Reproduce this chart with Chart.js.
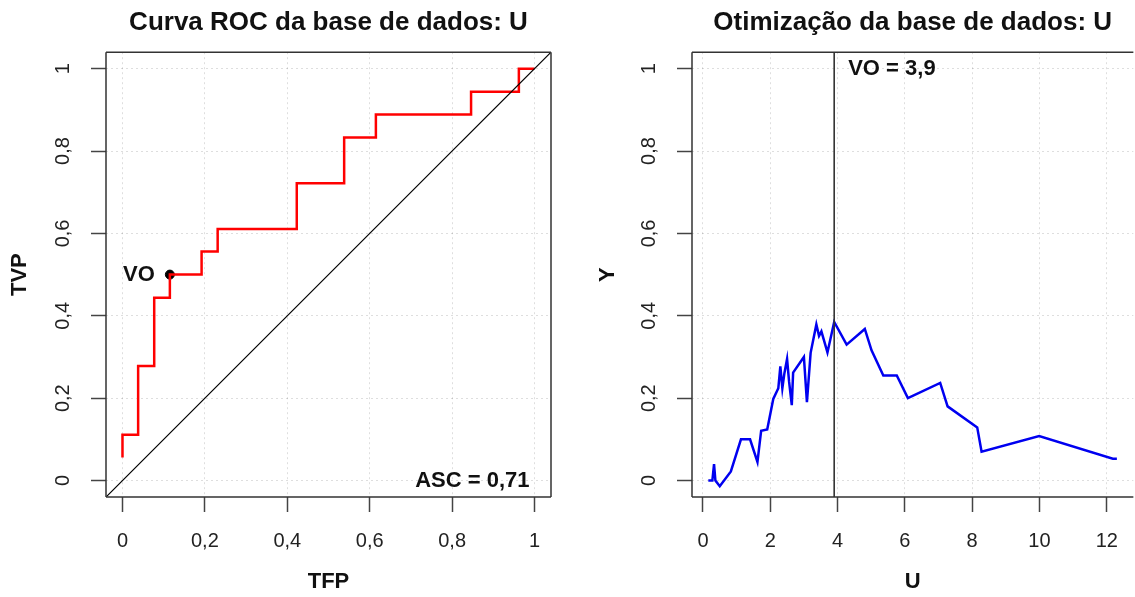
<!DOCTYPE html>
<html>
<head>
<meta charset="utf-8">
<script src="https://cdn.jsdelivr.net/npm/chart.js@4"></script>
<style>
  html, body { margin: 0; padding: 0; background: #fff; overflow: hidden; }
  #wrap { position: relative; width: 1135px; height: 597px; overflow: hidden; }
  canvas { position: absolute; top: 0; }
  #rocChart { left: 0; }
  #optChart { left: 567px; }
</style>
</head>
<body>
<div id="wrap">
  <canvas id="rocChart" width="567" height="597"></canvas>
  <canvas id="optChart" width="568" height="597"></canvas>
</div>
<script>
// ROC curve, corners of the steps (TFP, TVP)
const rocFpr = [0, 0, 0.038, 0.077, 0.115, 0.192, 0.231, 0.423, 0.538, 0.615, 0.846, 0.962, 1];
const rocTpr = [0.056, 0.111, 0.278, 0.444, 0.5, 0.556, 0.611, 0.722, 0.833, 0.889, 0.944, 1, 1];
const optFpr = [0.115];
const optTpr = [0.5];
const aucText = 'ASC = 0,71';

// optimisation curve (U, Y)
const uValues = [0.16, 0.28, 0.33, 0.37, 0.50, 0.83, 1.13, 1.40, 1.62, 1.73, 1.91, 2.09, 2.24, 2.30, 2.36, 2.42,
  2.50, 2.56, 2.64, 2.68, 3.00, 3.09, 3.20, 3.37, 3.45, 3.52, 3.70, 3.90, 4.27, 4.81, 5.01, 5.36, 5.76, 6.09,
  7.05, 7.27, 8.15, 8.28, 9.99, 12.18, 12.30];
const yValues = [0.0, 0.0, 0.04, 0.0, -0.014, 0.022, 0.10, 0.10, 0.045, 0.121, 0.124, 0.198, 0.224, 0.277, 0.224, 0.26,
  0.295, 0.24, 0.183, 0.262, 0.30, 0.19, 0.31, 0.379, 0.351, 0.362, 0.311, 0.385, 0.33, 0.368, 0.316, 0.255, 0.255, 0.20,
  0.237, 0.18, 0.129, 0.07, 0.108, 0.053, 0.053];
const optU = [3.9];
const optText = 'VO = 3,9';

const rocTicks = [0, 0.2, 0.4, 0.6, 0.8, 1];
const probTicks = [0, 0.2, 0.4, 0.6, 0.8, 1];
const uTicks = [0, 2, 4, 6, 8, 10, 12];
const rocLimits = [-0.04, 1.04];
const uLimits = [-0.325, 12.79];

const FONT = "'Liberation Sans', Arial, Helvetica, sans-serif";

function pairs(xs, ys) {
  return xs.map((x, i) => ({ x: x, y: ys[i] }));
}

function axis(limits, ticks, title, isY, titlePad) {
  return {
    type: 'linear',
    min: limits[0],
    max: limits[1],
    afterBuildTicks: s => { s.ticks = ticks.map(v => ({ value: v })); },
    afterFit: s => { if (isY) s.width = isY; else s.height = 100; },
    grid: {
      color: 'rgba(0,0,0,0.13)',
      lineWidth: 1,
      tickLength: 15,
      tickColor: '#444',
      tickWidth: 1.5
    },
    border: { display: false, dash: [2, 3] },
    ticks: {
      color: '#222',
      font: { family: FONT, size: 20 },
      padding: isY ? 14 : 17,
      minRotation: isY ? 90 : 0,
      maxRotation: isY ? 90 : 0,
      crossAlign: isY ? 'center' : 'near',
      callback: v => String(v).replace('.', ',')
    },
    title: {
      display: true,
      text: title,
      color: '#111',
      font: { family: FONT, size: 22, weight: 'bold' },
      padding: isY ? { top: titlePad, bottom: 0 } : { top: 0, bottom: 2 }
    }
  };
}

function boxPlugin(sides) {
  return {
    id: 'box',
    afterDraw(chart) {
      const { ctx, chartArea: a } = chart;
      ctx.save();
      ctx.strokeStyle = '#333';
      ctx.lineWidth = 1.5;
      ctx.beginPath();
      if (sides.includes('l')) { ctx.moveTo(a.left, a.top); ctx.lineTo(a.left, a.bottom); }
      if (sides.includes('b')) { ctx.moveTo(a.left, a.bottom); ctx.lineTo(a.right, a.bottom); }
      if (sides.includes('t')) { ctx.moveTo(a.left, a.top); ctx.lineTo(a.right, a.top); }
      if (sides.includes('r')) { ctx.moveTo(a.right, a.top); ctx.lineTo(a.right, a.bottom); }
      ctx.stroke();
      ctx.restore();
    }
  };
}

function labelPlugin(items) {
  return {
    id: 'labels',
    afterDatasetsDraw(chart) {
      const { ctx, scales } = chart;
      ctx.save();
      ctx.fillStyle = '#111';
      ctx.font = 'bold 22px ' + FONT;
      ctx.textBaseline = 'middle';
      items.forEach(it => {
        ctx.textAlign = it.align;
        ctx.fillText(it.text, scales.x.getPixelForValue(it.x) + it.dx, scales.y.getPixelForValue(it.y));
      });
      ctx.restore();
    }
  };
}

function titleOpts(text) {
  return {
    display: true,
    text: text,
    fullSize: false,
    color: '#111',
    font: { family: FONT, size: 26, weight: 'bold' },
    padding: { top: 7, bottom: 14 }
  };
}

new Chart(document.getElementById('rocChart'), {
  type: 'scatter',
  data: {
    datasets: [
      {
        data: pairs(rocLimits, rocLimits),
        showLine: true,
        borderColor: '#000',
        borderWidth: 1.2,
        pointRadius: 0
      },
      {
        data: pairs(rocFpr, rocTpr),
        showLine: true,
        stepped: 'before',
        borderColor: '#ff0000',
        borderWidth: 2.5,
        pointRadius: 0
      },
      {
        data: pairs(optFpr, optTpr),
        backgroundColor: '#000',
        borderColor: '#000',
        pointRadius: 4.5
      }
    ]
  },
  options: {
    responsive: false,
    animation: false,
    devicePixelRatio: 1,
    layout: { padding: { left: 0, right: 16, top: 0, bottom: 0 } },
    plugins: {
      legend: { display: false },
      tooltip: { enabled: false },
      title: titleOpts('Curva ROC da base de dados: U')
    },
    scales: {
      x: axis(rocLimits, rocTicks, 'TFP', 0, 0),
      y: axis(rocLimits, probTicks, 'TVP', 106, 7)
    }
  },
  plugins: [
    boxPlugin('lbtr'),
    labelPlugin([
      { text: 'VO', x: optFpr[0], y: optTpr[0], dx: -15, align: 'right' },
      { text: aucText, x: 1, y: 0, dx: -5, align: 'right' }
    ])
  ]
});

new Chart(document.getElementById('optChart'), {
  type: 'scatter',
  data: {
    datasets: [
      {
        data: pairs([optU[0], optU[0]], rocLimits),
        showLine: true,
        borderColor: '#333',
        borderWidth: 1.6,
        pointRadius: 0
      },
      {
        data: pairs(uValues, yValues),
        showLine: true,
        borderColor: '#0000f0',
        borderWidth: 2.5,
        pointRadius: 0
      }
    ]
  },
  options: {
    responsive: false,
    animation: false,
    devicePixelRatio: 1,
    layout: { padding: { left: 0, right: 0, top: 0, bottom: 0 } },
    plugins: {
      legend: { display: false },
      tooltip: { enabled: false },
      title: titleOpts('Otimização da base de dados: U')
    },
    scales: {
      x: axis(uLimits, uTicks, 'U', 0, 0),
      y: axis(rocLimits, probTicks, 'Y', 125, 28)
    }
  },
  plugins: [
    boxPlugin('lbt'),
    labelPlugin([
      { text: optText, x: optU[0], y: 1, dx: 14, align: 'left' }
    ])
  ]
});
</script>
</body>
</html>
